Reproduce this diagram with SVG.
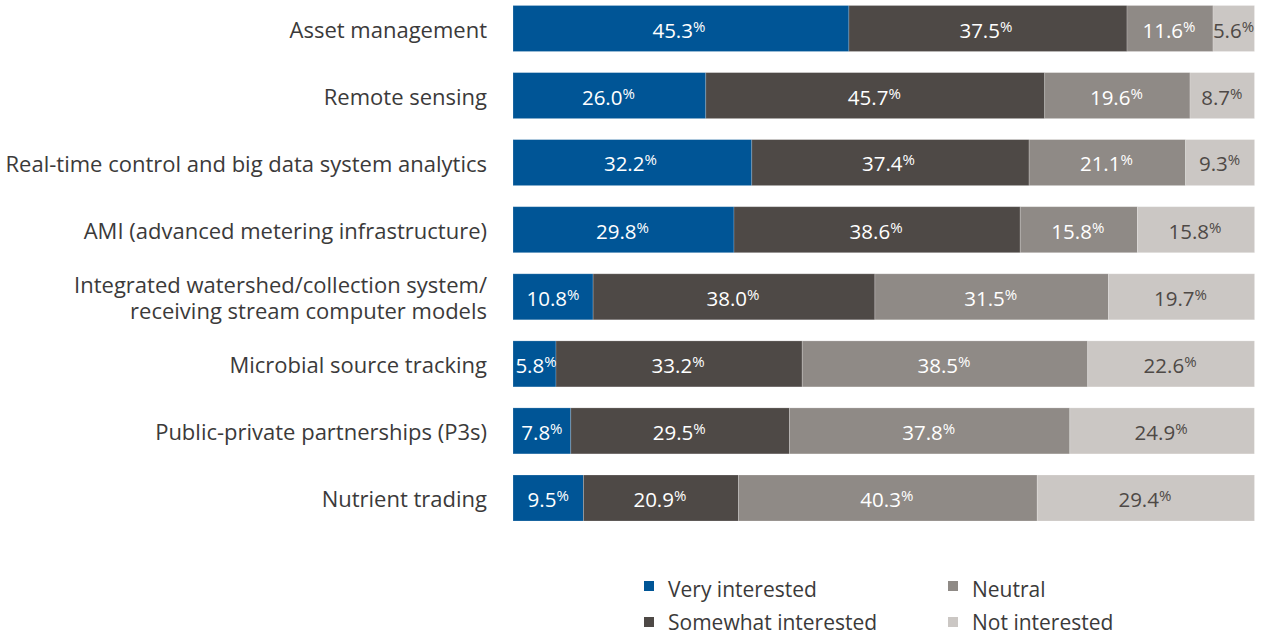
<svg xmlns="http://www.w3.org/2000/svg" width="1266" height="636" viewBox="0 0 1266 636">
<style>
.lbl{font-family:"Open Sans","Liberation Sans",sans-serif;font-size:22px;fill:#3b3a3a;text-anchor:end}
.v{font-family:"Open Sans","Liberation Sans",sans-serif;font-size:20.5px;fill:#ffffff;text-anchor:middle}
.v.d{fill:#4e4946}
.p{font-size:15px}
.s1{fill:#005596}
.s2{fill:#4e4946}
.s3{fill:#8f8a86}
.s4{fill:#cbc7c4}
.seg{stroke:#ffffff;stroke-opacity:0.25;stroke-width:0.8}
.lg{font-family:"Open Sans","Liberation Sans",sans-serif;font-size:21px;fill:#3b3a3a}
</style>
<rect width="1266" height="636" fill="#ffffff"/>

<g id="row1">
<text class="lbl" x="487" y="37.5">Asset management</text>
<rect class="seg s1" x="513" y="5.5" width="335.9" height="46"/>
<rect class="seg s2" x="848.9" y="5.5" width="278.1" height="46"/>
<rect class="seg s3" x="1127" y="5.5" width="86" height="46"/>
<rect class="seg s4" x="1213" y="5.5" width="41.5" height="46"/>
<text class="v" x="678.9" y="37.8">45.3<tspan class="p" dy="-6">%</tspan></text>
<text class="v" x="985.9" y="37.8">37.5<tspan class="p" dy="-6">%</tspan></text>
<text class="v" x="1169" y="37.8">11.6<tspan class="p" dy="-6">%</tspan></text>
<text class="v d" x="1233.5" y="37.8">5.6<tspan class="p" dy="-6">%</tspan></text>
</g>

<g id="row2">
<text class="lbl" x="487" y="104.6">Remote sensing</text>
<rect class="seg s1" x="513" y="72.6" width="192.8" height="46"/>
<rect class="seg s2" x="705.8" y="72.6" width="338.9" height="46"/>
<rect class="seg s3" x="1044.7" y="72.6" width="145.3" height="46"/>
<rect class="seg s4" x="1190" y="72.6" width="64.5" height="46"/>
<text class="v" x="608.4" y="104.9">26.0<tspan class="p" dy="-6">%</tspan></text>
<text class="v" x="874.3" y="104.9">45.7<tspan class="p" dy="-6">%</tspan></text>
<text class="v" x="1116.4" y="104.9">19.6<tspan class="p" dy="-6">%</tspan></text>
<text class="v d" x="1221.8" y="104.9">8.7<tspan class="p" dy="-6">%</tspan></text>
</g>

<g id="row3">
<text class="lbl" x="487" y="171.6">Real-time control and big data system analytics</text>
<rect class="seg s1" x="513" y="139.6" width="238.8" height="46"/>
<rect class="seg s2" x="751.8" y="139.6" width="277.3" height="46"/>
<rect class="seg s3" x="1029.1" y="139.6" width="156.5" height="46"/>
<rect class="seg s4" x="1185.6" y="139.6" width="69" height="46"/>
<text class="v" x="630.4" y="171.4">32.2<tspan class="p" dy="-6">%</tspan></text>
<text class="v" x="888.5" y="171.4">37.4<tspan class="p" dy="-6">%</tspan></text>
<text class="v" x="1106.4" y="171.4">21.1<tspan class="p" dy="-6">%</tspan></text>
<text class="v d" x="1219.6" y="171.4">9.3<tspan class="p" dy="-6">%</tspan></text>
</g>

<g id="row4">
<text class="lbl" x="487" y="238.7">AMI (advanced metering infrastructure)</text>
<rect class="seg s1" x="513" y="206.7" width="221" height="46"/>
<rect class="seg s2" x="734" y="206.7" width="286.2" height="46"/>
<rect class="seg s3" x="1020.2" y="206.7" width="117.2" height="46"/>
<rect class="seg s4" x="1137.4" y="206.7" width="117.2" height="46"/>
<text class="v" x="622.5" y="238.5">29.8<tspan class="p" dy="-6">%</tspan></text>
<text class="v" x="876.1" y="238.5">38.6<tspan class="p" dy="-6">%</tspan></text>
<text class="v" x="1077.8" y="238.5">15.8<tspan class="p" dy="-6">%</tspan></text>
<text class="v d" x="1195" y="238.5">15.8<tspan class="p" dy="-6">%</tspan></text>
</g>

<g id="row5">
<text class="lbl" x="487" y="293">Integrated watershed/collection system/</text>
<text class="lbl" x="487" y="318.5">receiving stream computer models</text>
<rect class="seg s1" x="513" y="273.8" width="80.1" height="46"/>
<rect class="seg s2" x="593.1" y="273.8" width="281.8" height="46"/>
<rect class="seg s3" x="874.9" y="273.8" width="233.6" height="46"/>
<rect class="seg s4" x="1108.5" y="273.8" width="146.1" height="46"/>
<text class="v" x="553" y="305.6">10.8<tspan class="p" dy="-6">%</tspan></text>
<text class="v" x="733" y="305.6">38.0<tspan class="p" dy="-6">%</tspan></text>
<text class="v" x="990.7" y="305.6">31.5<tspan class="p" dy="-6">%</tspan></text>
<text class="v d" x="1180.5" y="305.6">19.7<tspan class="p" dy="-6">%</tspan></text>
</g>

<g id="row6">
<text class="lbl" x="487" y="372.9">Microbial source tracking</text>
<rect class="seg s1" x="513" y="340.9" width="43" height="46"/>
<rect class="seg s2" x="556" y="340.9" width="246.2" height="46"/>
<rect class="seg s3" x="802.2" y="340.9" width="285.5" height="46"/>
<rect class="seg s4" x="1087.7" y="340.9" width="166.8" height="46"/>
<text class="v" x="536" y="372.7">5.8<tspan class="p" dy="-6">%</tspan></text>
<text class="v" x="678.1" y="372.7">33.2<tspan class="p" dy="-6">%</tspan></text>
<text class="v" x="944" y="372.7">38.5<tspan class="p" dy="-6">%</tspan></text>
<text class="v d" x="1170.1" y="372.7">22.6<tspan class="p" dy="-6">%</tspan></text>
</g>

<g id="row7">
<text class="lbl" x="487" y="439.9">Public-private partnerships (P3s)</text>
<rect class="seg s1" x="513" y="407.9" width="57.8" height="46"/>
<rect class="seg s2" x="570.8" y="407.9" width="218.7" height="46"/>
<rect class="seg s3" x="789.5" y="407.9" width="280.3" height="46"/>
<rect class="seg s4" x="1069.8" y="407.9" width="184.6" height="46"/>
<text class="v" x="541.9" y="439.7">7.8<tspan class="p" dy="-6">%</tspan></text>
<text class="v" x="679.2" y="439.7">29.5<tspan class="p" dy="-6">%</tspan></text>
<text class="v" x="928.7" y="439.7">37.8<tspan class="p" dy="-6">%</tspan></text>
<text class="v d" x="1161.1" y="439.7">24.9<tspan class="p" dy="-6">%</tspan></text>
</g>

<g id="row8">
<text class="lbl" x="487" y="507">Nutrient trading</text>
<rect class="seg s1" x="513" y="475" width="70.4" height="46"/>
<rect class="seg s2" x="583.4" y="475" width="155" height="46"/>
<rect class="seg s3" x="738.4" y="475" width="298.8" height="46"/>
<rect class="seg s4" x="1037.2" y="475" width="217.3" height="46"/>
<text class="v" x="548.2" y="506.8">9.5<tspan class="p" dy="-6">%</tspan></text>
<text class="v" x="659.9" y="506.8">20.9<tspan class="p" dy="-6">%</tspan></text>
<text class="v" x="886.8" y="506.8">40.3<tspan class="p" dy="-6">%</tspan></text>
<text class="v d" x="1144.9" y="506.8">29.4<tspan class="p" dy="-6">%</tspan></text>
</g>

<g id="legend">
<rect class="s1" x="644" y="581" width="10" height="10"/>
<text class="lg" x="668" y="596.5">Very interested</text>
<rect class="s2" x="644" y="617" width="10" height="10"/>
<text class="lg" x="668" y="630">Somewhat interested</text>
<rect class="s3" x="948" y="581" width="10" height="10"/>
<text class="lg" x="972" y="596.5">Neutral</text>
<rect class="s4" x="948" y="617" width="10" height="10"/>
<text class="lg" x="972" y="630">Not interested</text>
</g>
</svg>
